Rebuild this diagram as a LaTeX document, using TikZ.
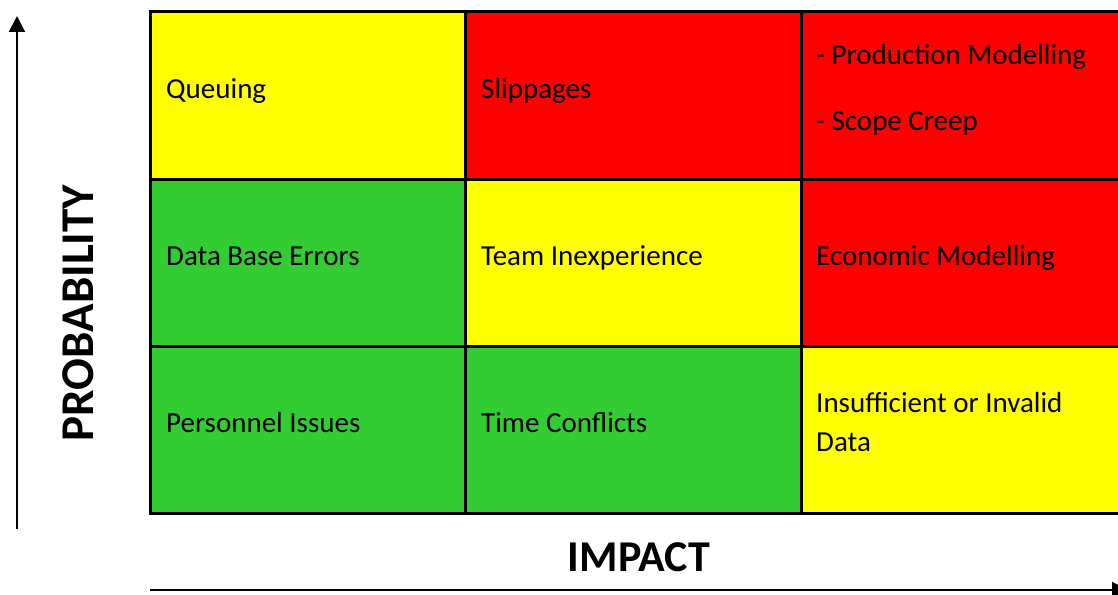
\documentclass[tikz,border=0pt]{standalone}
\usepackage{fontspec}
\setmainfont{Carlito}
\usetikzlibrary{arrows.meta}

\definecolor{riskred}{HTML}{FF0000}
\definecolor{riskyellow}{HTML}{FFFF00}
\definecolor{riskgreen}{HTML}{33CC33}

\begin{document}
\begin{tikzpicture}[x=1pt,y=-1pt,
  cell/.style={draw=black,line width=3pt,inner sep=0pt,outer sep=0pt,
    minimum height=167pt},
  lefttext/.style={anchor=base west,inner sep=0pt,
    font=\fontsize{29}{39}\selectfont,text=black},
  axislabel/.style={font=\bfseries\fontsize{44}{50}\selectfont,inner sep=0pt},
  axisline/.style={line width=2pt,-{Triangle[width=16pt,length=16pt]}}
]
\useasboundingbox (0,0) rectangle (1118,594);
\clip (0,0) rectangle (1118,594);

% risk matrix cells: columns = impact, rows = probability
\node[cell,fill=riskyellow,minimum width=315pt] (c11) at (307.5,95.5) {};
\node[cell,fill=riskred,minimum width=336pt]    (c12) at (633,95.5) {};
\node[cell,fill=riskred,minimum width=320pt]    (c13) at (961,95.5) {};
\node[cell,fill=riskgreen,minimum width=315pt]  (c21) at (307.5,262.5) {};
\node[cell,fill=riskyellow,minimum width=336pt] (c22) at (633,262.5) {};
\node[cell,fill=riskred,minimum width=320pt]    (c23) at (961,262.5) {};
\node[cell,fill=riskgreen,minimum width=315pt]  (c31) at (307.5,429.5) {};
\node[cell,fill=riskgreen,minimum width=336pt]  (c32) at (633,429.5) {};
\node[cell,fill=riskyellow,minimum width=320pt] (c33) at (961,429.5) {};

% cell texts
\node[lefttext] (t11) at (166,98) {Queuing};
\node[lefttext] (t12) at (481,98) {Slippages};
\node[lefttext] (t13) at (816,64) {\parbox[t]{300pt}{\raggedright - Production Modelling\\[27pt] - Scope Creep}};
\node[lefttext] (t21) at (166,265) {Data Base Errors};
\node[lefttext] (t22) at (481,265) {Team Inexperience};
\node[lefttext] (t23) at (816,265) {Economic Modelling};
\node[lefttext] (t31) at (166,432) {Personnel Issues};
\node[lefttext] (t32) at (481,432) {Time Conflicts};
\node[lefttext] (t33) at (816,412) {\parbox[t]{300pt}{\raggedright Insufficient or Invalid\\ Data}};

% axes
\coordinate (pbase) at (17,529);
\coordinate (ptip) at (17,16);
\coordinate (ibase) at (150,590);
\coordinate (itip) at (1128,590);
\draw[axisline] (pbase) -- (ptip);
\draw[axisline] (ibase) -- (itip);

\node[axislabel,rotate=90,font=\bfseries\fontsize{47}{52}\selectfont] (prob) at (78,313) {PROBABILITY};
\node[axislabel] (imp) at (639,557) {IMPACT};
\end{tikzpicture}
\end{document}
